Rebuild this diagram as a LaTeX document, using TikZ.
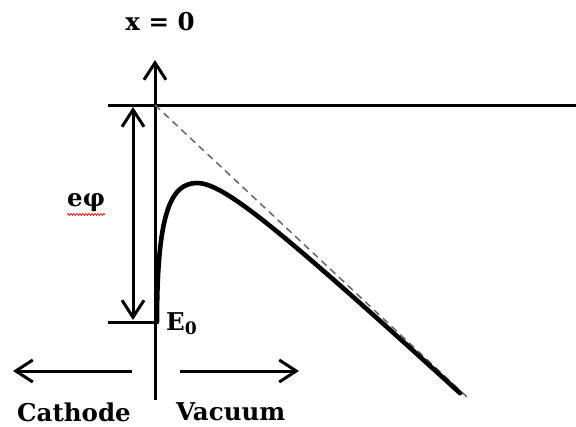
\documentclass[tikz,border=0pt]{standalone}
\usepackage{fontspec}
\newfontfamily\labelfont{DejaVu Serif}
\usetikzlibrary{arrows.meta, decorations.pathmorphing}

\begin{document}
\begin{tikzpicture}[
		x=1pt, y=-1pt,
		axis/.style={line width=3pt},
		arrow/.style={line width=3pt, -{Straight Barb[length=17pt, width=22pt]}},
		dblarrow/.style={line width=3pt, {Straight Barb[length=17pt, width=22pt]}-{Straight Barb[length=17pt, width=22pt]}},
		barrier/.style={line width=4.6pt, line join=round, line cap=round},
		image/.style={black!60, line width=1.5pt, dash pattern=on 7pt off 5pt},
		label/.style={font=\labelfont\fontsize{24.5}{29}\selectfont\bfseries, inner sep=0pt}
		]
		
		\useasboundingbox (0,0) rectangle (576,426);
		
		% levels and axis
		\coordinate (vac) at (155,105);
		\coordinate (fermi) at (155,322);
		\coordinate (axisbot) at (155,400);
		\coordinate (axistop) at (155,60);
		\coordinate (tail) at (467,397);
		
		\draw[axis] (108,105) -- (576,105);
		\draw[axis] (108,322) -- (fermi);
		\draw[arrow] (axisbot) -- (axistop);
		\draw[dblarrow] (133,107) -- (133,320);
		
		% image-force barrier
		\draw[image] (vac) -- (tail);
		\draw[barrier] (157,322) .. controls (157,215) and (170,183) .. (197,183)
			-- plot[domain=42:305, samples=80] ({155+\x}, {105+0.927*\x+1641/\x});
		
		% sides
		\draw[arrow] (132,371) -- (13,371);
		\draw[arrow] (180,371) -- (299,371);
		
		\node[label] (xzero) at (160,22) {x = 0};
		\node[label, anchor=west] (ezero) at (166,324) {E\textsubscript{0}};
		\node[label, anchor=west] (workfn) at (67,202) {eφ};
		\draw[red, line width=0.7pt, decorate, decoration={snake, amplitude=1pt, segment length=3pt}]
			(workfn.south west) ++(0,3) -- ++(38,0);
		\node[label, anchor=west] (cathode) at (17,412) {Cathode};
		\node[label, anchor=west] (vacuum) at (176,412) {Vacuum};
		
	\end{tikzpicture}
\end{document}
